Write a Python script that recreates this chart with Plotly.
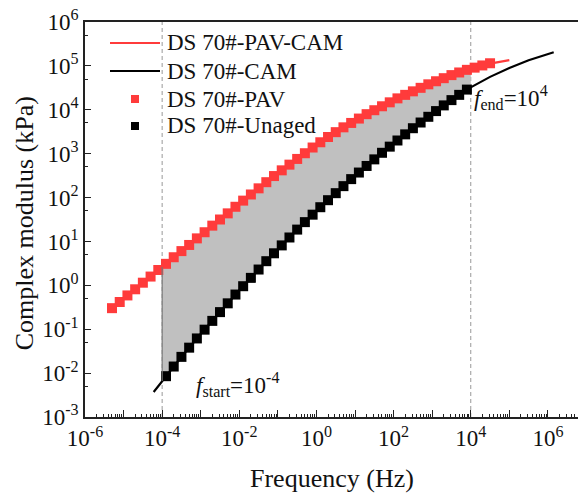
import numpy as np
import plotly.graph_objects as go

# ---- data (log10 values) ----
pav_logf = [-5.3,-5.1,-4.9,-4.7,-4.5,-4.3,-4.1,-3.9,-3.7,-3.5,-3.3,-3.1,-2.9,-2.7,-2.5,
            -2.3,-2.1,-1.9,-1.7,-1.5,-1.3,-1.1,-0.9,-0.7,-0.5,-0.3,-0.1,0.1,0.3,0.5,
            0.7,0.9,1.1,1.3,1.5,1.7,1.9,2.1,2.3,2.5,2.7,2.9,3.1,3.3,3.5,3.7,3.9,4.1,4.3,4.5]
pav_logE = [-0.52,-0.38,-0.23,-0.09,0.06,0.20,0.35,0.49,0.64,0.78,0.92,1.07,1.21,1.36,1.50,
            1.64,1.79,1.93,2.07,2.21,2.35,2.49,2.62,2.75,2.88,3.01,3.14,3.26,3.38,3.49,
            3.60,3.70,3.80,3.90,3.99,4.08,4.17,4.26,4.34,4.42,4.50,4.58,4.65,4.72,4.79,
            4.85,4.91,4.96,5.01,5.06]

unaged_logf = [-3.9,-3.7,-3.5,-3.3,-3.1,-2.9,-2.7,-2.5,-2.3,-2.1,-1.9,-1.7,-1.5,-1.3,-1.1,
               -0.9,-0.7,-0.5,-0.3,-0.1,0.1,0.3,0.5,0.7,0.9,1.1,1.3,1.5,1.7,1.9,
               2.1,2.3,2.5,2.7,2.9,3.1,3.3,3.5,3.7,3.9]
unaged_logE = [-2.07,-1.85,-1.63,-1.42,-1.21,-1.01,-0.81,-0.61,-0.41,-0.21,-0.02,0.17,0.36,0.55,0.73,
               0.91,1.09,1.27,1.44,1.61,1.78,1.94,2.10,2.26,2.42,2.57,2.72,2.87,3.02,3.16,
               3.30,3.44,3.58,3.71,3.84,3.97,4.10,4.22,4.34,4.46]

pavcam_logf = [-5.3,-5.0,-4.5,-4.0,-3.5,-3.0,-2.5,-2.0,-1.5,-1.0,-0.5,0.0,0.5,1.0,1.5,2.0,2.5,3.0,3.5,4.0,4.5,5.0]
pavcam_logE = [-0.52,-0.31,0.06,0.42,0.78,1.14,1.50,1.86,2.21,2.56,2.88,3.20,3.49,3.75,3.99,4.22,4.42,4.62,4.79,4.93,5.05,5.13]

cam_logf = [-4.22,-4.0,-3.5,-3.0,-2.5,-2.0,-1.5,-1.0,-0.5,0.0,0.5,1.0,1.5,2.0,2.5,3.0,3.5,4.0,4.5,5.0,5.5,6.15]
cam_logE = [-2.43,-2.18,-1.63,-1.11,-0.61,-0.11,0.36,0.82,1.27,1.70,2.10,2.50,2.87,3.23,3.58,3.91,4.22,4.51,4.75,4.95,5.13,5.31]

f_start_log = -4
f_end_log = 4

names = ["DS 70#-PAV-CAM", "DS 70#-CAM", "DS 70#-PAV", "DS 70#-Unaged"]
red = "#ff3b3b"
FONT = "Liberation Serif"

def p10(a):
    return 10 ** np.asarray(a, dtype=float)

# shaded band between the two curves from f_start to f_end
rf, re_ = np.array(pavcam_logf), np.array(pavcam_logE)
bf, be = np.array(cam_logf), np.array(cam_logE)
mr = (rf >= f_start_log) & (rf <= f_end_log)
mb = (bf >= f_start_log) & (bf <= f_end_log)
fill_x = np.concatenate([rf[mr], bf[mb][::-1]])
fill_y = np.concatenate([re_[mr], be[mb][::-1]])

fig = go.Figure()
fig.add_trace(go.Scatter(x=p10(fill_x), y=p10(fill_y), mode="lines", fill="toself",
                         fillcolor="#c0c0c0", line=dict(width=0), showlegend=False,
                         hoverinfo="skip"))
fig.add_trace(go.Scatter(x=p10(pavcam_logf), y=p10(pavcam_logE), mode="lines",
                         line=dict(color=red, width=2.2), name=names[0], showlegend=False))
fig.add_trace(go.Scatter(x=p10(cam_logf), y=p10(cam_logE), mode="lines",
                         line=dict(color="black", width=2.2), name=names[1], showlegend=False))
fig.add_trace(go.Scatter(x=p10(pav_logf), y=p10(pav_logE), mode="markers",
                         marker=dict(symbol="square", size=10, color=red, line=dict(width=0)),
                         name=names[2], showlegend=False))
fig.add_trace(go.Scatter(x=p10(unaged_logf), y=p10(unaged_logE), mode="markers",
                         marker=dict(symbol="square", size=10, color="black", line=dict(width=0)),
                         name=names[3], showlegend=False))

# guide lines
for lf in (f_start_log, f_end_log):
    fig.add_shape(type="line", xref="x", yref="paper", x0=10**lf, x1=10**lf, y0=0, y1=1,
                  line=dict(color="#999999", width=1, dash="4px,3px"), layer="below")
y_lo = float(np.interp(f_start_log, cam_logf, cam_logE))
y_hi = float(np.interp(f_start_log, pavcam_logf, pavcam_logE))
fig.add_shape(type="line", xref="x", yref="y", x0=10**f_start_log, x1=10**f_start_log,
              y0=10**y_lo, y1=10**y_hi, line=dict(color="#777777", width=1.2))

# ---- legend drawn in paper space (plot area: x 85..578 px, y 22..417 px) ----
PW, PH, PL, PB = 493.0, 395.0, 85.0, 417.0
def px(xp):
    return (xp - PL) / PW
def py(yp):
    return (PB - yp) / PH
leg_rows = [43, 71, 99, 126]
leg_kind = ["line", "line", "square", "square"]
leg_col = [red, "black", red, "black"]
for name, row, kind, col in zip(names, leg_rows, leg_kind, leg_col):
    if kind == "line":
        fig.add_shape(type="line", xref="paper", yref="paper", x0=px(110), x1=px(160),
                      y0=py(row), y1=py(row), line=dict(color=col, width=2.2))
    else:
        fig.add_shape(type="rect", xref="paper", yref="paper", xsizemode="pixel",
                      ysizemode="pixel", xanchor=px(135), yanchor=py(row),
                      x0=-4, x1=4, y0=-4, y1=4, fillcolor=col, line=dict(width=0))
    fig.add_annotation(xref="paper", yref="paper", x=px(165), y=py(row), xanchor="left",
                       yanchor="middle", text=name, showarrow=False,
                       font=dict(family=FONT, size=23, color="#111111"))

xt = list(range(-6, 7))
yt = list(range(-3, 7))
xminor = [m * 10.0**k for k in range(-6, 7) for m in range(2, 10)]
yminor = [5 * 10.0**k for k in range(-3, 6)]

axis_common = dict(type="log", showline=True, linecolor="#222222", linewidth=1.5,
                   ticks="inside", tickcolor="#222222", tickwidth=1, showgrid=False,
                   zeroline=False, automargin=False,
                   tickfont=dict(family=FONT, size=23, color="#111111"))
fig.update_xaxes(**axis_common, range=[-6, 6.78], mirror=True, ticklen=7,
                 tickvals=[10.0**k for k in xt],
                 ticktext=[("10<sup>%d</sup>" % k) if k % 2 == 0 else "" for k in xt],
                 minor=dict(tickvals=xminor, ticklen=3.5, ticks="inside", tickcolor="#222222",
                            showgrid=False))
fig.update_yaxes(**axis_common, range=[-3, 6], mirror=False, ticklen=6,
                 tickvals=[10.0**k for k in yt],
                 ticktext=["10<sup>%d</sup>" % k for k in yt],
                 minor=dict(tickvals=yminor, ticklen=3.5, ticks="inside", tickcolor="#222222",
                            showgrid=False))

fig.add_annotation(xref="x", yref="y", x=-3.17, y=-2.25, xanchor="left", yanchor="middle",
                   text="<i>f</i><sub>start</sub>=10<sup>-4</sup>", showarrow=False,
                   font=dict(family=FONT, size=23, color="#111111"))
fig.add_annotation(xref="x", yref="y", x=4.04, y=4.27, xanchor="left", yanchor="middle",
                   text="<i>f</i><sub>end</sub>=10<sup>4</sup>", showarrow=False,
                   font=dict(family=FONT, size=23, color="#111111"))
fig.add_annotation(xref="paper", yref="paper", x=0.5, y=-0.155, xanchor="center", yanchor="middle",
                   text="Frequency (Hz)", showarrow=False,
                   font=dict(family=FONT, size=26, color="#111111"))
fig.add_annotation(xref="paper", yref="paper", x=-0.122, y=0.49, xanchor="center", yanchor="middle",
                   text="Complex modulus (kPa)", textangle=-90, showarrow=False,
                   font=dict(family=FONT, size=26, color="#111111"))

fig.update_layout(width=578, height=496,
                  margin=dict(l=85, r=0, t=22, b=79),
                  paper_bgcolor="white", plot_bgcolor="white",
                  showlegend=False)

fig.write_html("out.html")
